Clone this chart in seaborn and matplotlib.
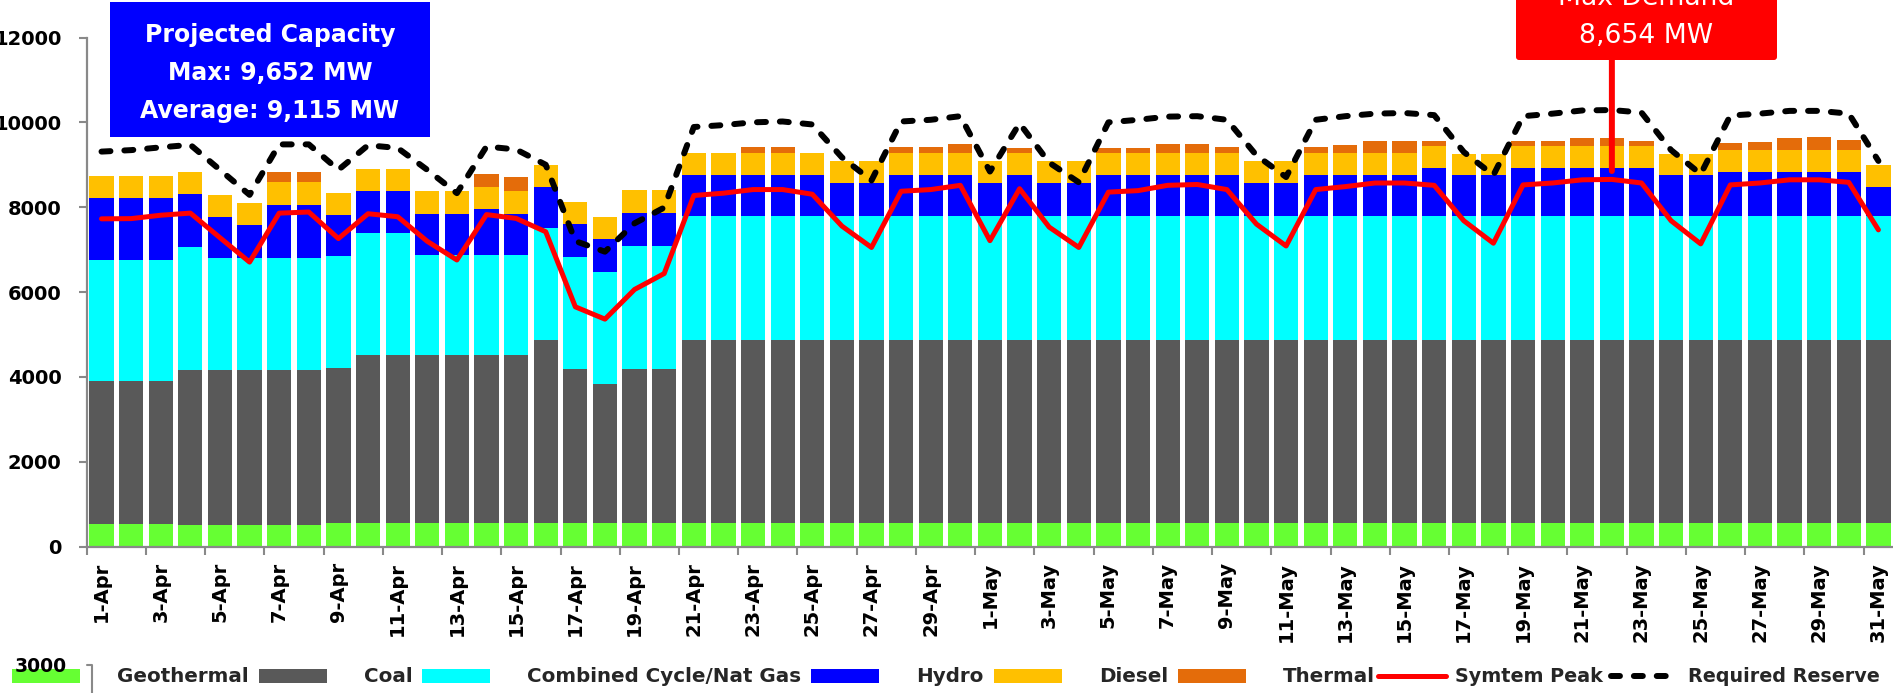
import numpy as np
import matplotlib
matplotlib.use("Agg")
import matplotlib.pyplot as plt
import seaborn as sns
from matplotlib.patches import Patch, Rectangle, FancyBboxPatch
from matplotlib.lines import Line2D
from matplotlib.transforms import IdentityTransform

# ---------------- data ----------------
dates = [f"{d}-Apr" for d in range(1, 31)] + [f"{d}-May" for d in range(1, 32)]

geothermal = [520] * 3 + [505] * 5 + [550] * 53

coal = ([3370] * 3 + [3645] * 5 + [3650] + [3960] * 6 + [4330, 3625, 3270]
        + [3630] * 2 + [4330] * 41)

combined_cycle = ([2860] * 3 + [2900] + [2655] * 4 + [2650] + [2890] * 2
                  + [2370] * 4 + [2635, 2640, 2640] + [2915] * 2 + [2905] * 41)

hydro = [1465, 1465, 1465, 1265, 955, 785, 1255, 1255, 965, 975,
         975, 970, 970, 1065, 970, 950, 785, 785, 775, 775,
         965, 965, 965, 965, 965, 785, 785, 965, 965, 965,
         785, 965, 785, 785, 965, 965, 965, 965, 965, 785,
         785, 965, 965, 965, 965, 1135, 965, 965, 1135, 1135,
         1135, 1135, 1135, 965, 965, 1035, 1035, 1035, 1035, 1035,
         680]

diesel = [530, 530, 530, 525, 520, 515, 525, 525, 515, 530,
          530, 525, 525, 520, 525, 525, 520, 515, 530, 530,
          525, 525, 525, 525, 525, 520, 520, 525, 525, 525,
          520, 525, 520, 520, 525, 525, 525, 525, 525, 520,
          520, 525, 525, 525, 525, 525, 510, 510, 525, 525,
          525, 525, 525, 510, 510, 525, 525, 525, 525, 525,
          525]

thermal = [0, 0, 0, 0, 0, 0, 245, 245, 0, 0,
           0, 0, 0, 310, 330, 0, 0, 0, 0, 0,
           0, 0, 135, 135, 0, 0, 0, 135, 135, 220,
           0, 130, 0, 0, 130, 130, 220, 220, 145, 0,
           0, 135, 185, 280, 280, 125, 0, 0, 120, 120,
           195, 195, 120, 0, 0, 170, 200, 295, 305, 230,
           0]

system_peak = [7725, 7730, 7810, 7860, 7280, 6705, 7860, 7885, 7260, 7845,
               7775, 7195, 6755, 7825, 7735, 7420, 5650, 5360, 6060, 6435,
               8275, 8330, 8415, 8415, 8305, 7555, 7050, 8375, 8415, 8515,
               7210, 8435, 7530, 7050, 8355, 8390, 8515, 8535, 8415, 7600,
               7085, 8415, 8485, 8570, 8570, 8515, 7680, 7150, 8525, 8570,
               8645, 8654, 8570, 7680, 7135, 8525, 8570, 8645, 8645, 8585,
               7465]

required_reserve = [9310, 9345, 9410, 9470, 8880, 8290, 9480, 9480, 8880, 9460,
                    9395, 8880, 8330, 9430, 9360, 9000, 7200, 6950, 7620, 7990,
                    9890, 9935, 10000, 10020, 9950, 9175, 8630, 10020, 10060, 10145,
                    8840, 9975, 9050, 8585, 10000, 10060, 10135, 10145, 10060, 9220,
                    8710, 10060, 10145, 10205, 10220, 10170, 9300, 8755, 10145, 10205,
                    10280, 10290, 10230, 9345, 8780, 10160, 10205, 10270, 10270, 10205,
                    9090]

series_names = ["Geothermal", "Coal", "Combined Cycle/Nat Gas", "Hydro", "Diesel", "Thermal"]
series_colors = ["#66FF33", "#595959", "#00FFFF", "#0000FF", "#FFC000", "#E46C0A"]
line_names = ["Symtem Peak", "Required Reserve"]
yticks = [0, 2000, 4000, 6000, 8000, 10000, 12000]

capacity_text = ["Projected Capacity", "Max: 9,652 MW", "Average: 9,115 MW"]
demand_text = ["Max Demand", "8,654 MW"]
max_idx = 51

# ---------------- style ----------------
sns.set_theme(style="ticks")
plt.rcParams['font.family'] = ['DejaVu Sans']

W, H = 1893, 693
fig = plt.figure(figsize=(W / 100, H / 100), dpi=100)
fig.patch.set_facecolor("white")
pitch = 29.615
ax = fig.add_axes([86.7 / W, 1 - 546.5 / H, 61 * pitch / W, 509 / H])
ax.set_facecolor("white")

stack = np.cumsum(np.array([geothermal, coal, combined_cycle, hydro, diesel, thermal],
                           dtype=float), axis=0)
for i in reversed(range(len(series_names))):
    sns.barplot(x=dates, y=stack[i], order=dates, color=series_colors[i],
                saturation=1, width=0.82, linewidth=0, edgecolor="none",
                errorbar=None, ax=ax, zorder=2)

xpos = np.arange(len(dates))
sns.lineplot(x=xpos, y=system_peak, color="#FF0000", linewidth=3.6,
             errorbar=None, legend=False, ax=ax, zorder=3)
sns.lineplot(x=xpos, y=required_reserve, color="black", linewidth=4.3,
             linestyle=(0, (1.5, 2.33)), dash_capstyle="round",
             errorbar=None, legend=False, ax=ax, zorder=3)

# axes formatting
grey = "#898989"
ax.set_xlim(-0.5, len(dates) - 0.5)
ax.set_ylim(0, 12000)
ax.set_xlabel("")
ax.set_ylabel("")
for s in ["top", "right"]:
    ax.spines[s].set_visible(False)
for s in ["left", "bottom"]:
    ax.spines[s].set_color(grey)
    ax.spines[s].set_linewidth(1.6)
    ax.spines[s].set_zorder(4)

ax.set_xticks(xpos[::2])
ax.set_xticklabels(dates[::2], rotation=90, fontsize=14, fontweight="bold", color="black")
ax.set_xticks(np.arange(-0.5, len(dates) - 1, 2), minor=True)
ax.tick_params(axis="x", which="major", length=0, pad=11.2, bottom=True)
ax.tick_params(axis="x", which="minor", length=5.8, width=1.5, color=grey,
               direction="out", bottom=True)

ax.set_yticks(yticks)
ax.set_yticklabels([str(v) for v in yticks], fontsize=14, fontweight="bold", color="black")
ax.tick_params(axis="y", which="major", length=5.8, width=1.5, color=grey,
               direction="out", pad=12.2, left=True)

# Max demand connector
y_top_val = (546.5 - 60) / 509 * 12000
y_bot_val = (546.5 - 171) / 509 * 12000
ax.annotate("", xy=(max_idx, y_bot_val), xytext=(max_idx, y_top_val),
            xycoords="data", textcoords="data",
            arrowprops=dict(arrowstyle="-", color="#FF0000", lw=4.3,
                            shrinkA=0, shrinkB=0),
            annotation_clip=False, zorder=4)

# Projected capacity box
fig.add_artist(Rectangle((110, H - 137), 320, 135, transform=IdentityTransform(),
                         facecolor="#0000FF", edgecolor="none", zorder=5))
for txt, base in zip(capacity_text, [41.7, 80, 118.3]):
    fig.text(270 / W, 1 - base / H, txt, ha="center", va="baseline", color="white",
             fontsize=17, fontweight="bold", zorder=6)

# Max demand box
fig.add_artist(FancyBboxPatch((1516, H - 60), 261, 120, transform=IdentityTransform(),
                              boxstyle="round,pad=0,rounding_size=3",
                              facecolor="#FF0000", edgecolor="none", zorder=5))
for txt, base in zip(demand_text, [5, 43]):
    fig.text(1646.5 / W, 1 - base / H, txt, ha="center", va="baseline", color="white",
             fontsize=19.2, zorder=6)

# Legend: bar series
leg_y = 1 - 677 / H
fs1 = 14.3
em1 = fs1 / 72 * 100
bar_handles = [Patch(facecolor=c, edgecolor="none") for c in series_colors]
fig.legend(bar_handles, series_names, loc="center left",
           bbox_to_anchor=(12 / W, leg_y), ncol=6, frameon=False,
           prop={"weight": "bold", "size": fs1}, handlelength=68 / em1, handleheight=0.7,
           handletextpad=37 / em1, columnspacing=10 / em1, borderpad=0, borderaxespad=0)

# Legend: line series
fs2 = 13.8
em2 = fs2 / 72 * 100
line_handles = [Line2D([], [], color="#FF0000", lw=3.6),
                Line2D([], [], color="black", lw=4.3, linestyle=(0, (1.5, 2.33)),
                       dash_capstyle="round")]
fig.legend(line_handles, line_names, loc="center left",
           bbox_to_anchor=(1378 / W, leg_y), ncol=2, frameon=False,
           prop={"weight": "bold", "size": fs2}, handlelength=68 / em2,
           handletextpad=9 / em2, columnspacing=8 / em2, borderpad=0, borderaxespad=0)

# stray fragment at bottom-left
fig.text(41 / W, 1 - 667 / H, "3000", ha="center", va="center", fontsize=13.5,
         fontweight="bold", color="black", zorder=10)
fig.add_artist(Line2D([87, 92, 92], [H - 665, H - 665, 0], transform=IdentityTransform(),
                      color=grey, lw=1.5))

fig.savefig("out.png", dpi=100, facecolor="white")
